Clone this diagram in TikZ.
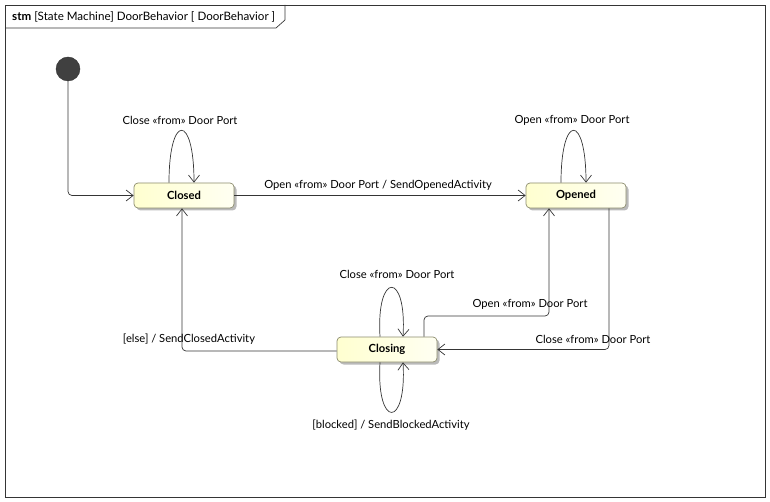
\documentclass[tikz,border=0pt]{standalone}
\usepackage{fontspec}
\setmainfont{Lato}
\usetikzlibrary{arrows.meta,calc,shadows}
\definecolor{stborder}{HTML}{8C8C6E}
\definecolor{stfillA}{HTML}{FFFFD0}
\definecolor{stfillB}{HTML}{FFFFF2}
\definecolor{ln}{HTML}{353535}
\begin{document}
\begin{tikzpicture}[x=1pt,y=-1pt,
  every node/.style={font=\fontsize{11.2}{13}\selectfont, inner sep=0pt},
  state/.style={draw=stborder, line width=0.7pt, rounded corners=4pt,
    minimum width=100pt, minimum height=25pt,
    left color=stfillA, right color=stfillB,
    font=\fontsize{11.2}{13}\selectfont\bfseries,
    drop shadow={shadow xshift=2.5pt, shadow yshift=-2.5pt, fill=black!45, opacity=0.6}},
  trans/.style={draw=ln, line width=0.7pt, rounded corners=4pt,
    -{Straight Barb[length=7pt,width=11pt,line width=0.7pt]}},
  lbl/.style={text=black}]
\useasboundingbox (0,0) rectangle (770,502);
% frame
\draw[ln, line width=0.7pt] (5,5) rectangle (765,497);
\draw[ln, line width=0.7pt] (5,28) -- (276,28) -- (285,20) -- (285,5);
\node[anchor=west, font=\fontsize{11.6}{13}\selectfont] (title) at (12,16.5) {\textbf{stm} [State Machine] DoorBehavior [ DoorBehavior ]};
% initial
\node[circle, fill=black!75, minimum size=24pt, draw=black!80] (init) at (68,69) {};
% states
\node[state] (closed) at (184,195.5) {Closed};
\node[state] (opened) at (576,195.5) {Opened};
\node[state] (closing) at (387,349.5) {Closing};
% initial -> closed
\draw[trans] (init.south) |- (closed.west);
% closed self loop
\draw[trans] ([xshift=-15pt]closed.north) .. controls (169,113) and (194,113) .. ([xshift=10pt]closed.north);
\node[lbl] (l1) at (180,120) {Close «from» Door Port};
% closed -> opened
\draw[trans] (closed.east) -- (opened.west);
\node[lbl] (l2) at (378,185) {Open «from» Door Port / SendOpenedActivity};
% opened self loop
\draw[trans] ([xshift=-15pt]opened.north) .. controls (561,113) and (586,113) .. ([xshift=10pt]opened.north);
\node[lbl] (l3) at (572,120) {Open «from» Door Port};
% opened -> closing
\draw[trans] ([xshift=33pt]opened.south) |- (closing.east);
\node[lbl] (l4) at (593,339.5) {Close «from» Door Port};
% closing -> opened
\coordinate (c1) at (424,316);
\draw[trans] ([xshift=37pt]closing.north) -- (c1) -| ([xshift=-27pt]opened.south);
\node[lbl] (l5) at (530,304) {Open «from» Door Port};
% closing -> closed
\draw[trans] ([yshift=-1.5pt]closing.west) -| ([xshift=-2pt]closed.south);
\node[lbl] (l6) at (189,339.5) {[else] / SendClosedActivity};
% closing self loops
\draw[trans] ([xshift=-7pt]closing.north) .. controls (376,271) and (407,271) .. ([xshift=16pt]closing.north);
\node[lbl] (l7) at (397,274) {Close «from» Door Port};
\draw[trans] ([xshift=-7pt]closing.south) .. controls (376,429) and (407,429) .. ([xshift=16pt]closing.south);
\node[lbl] (l8) at (391,425.5) {[blocked] / SendBlockedActivity};
\end{tikzpicture}
\end{document}
